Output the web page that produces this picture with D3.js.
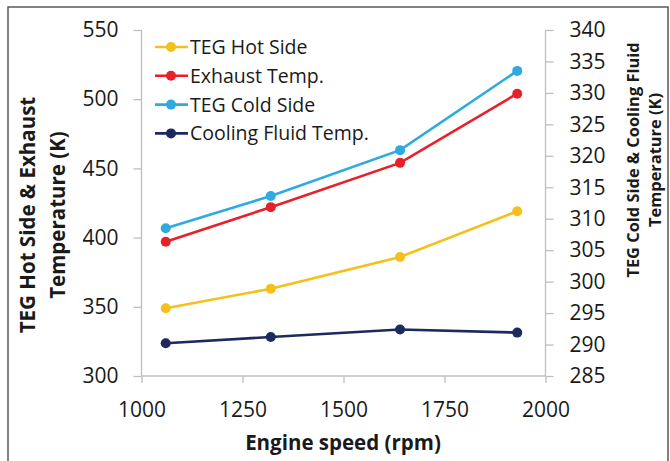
<!DOCTYPE html>
<html lang="en">
<head>
<meta charset="utf-8">
<title>TEG temperatures vs engine speed</title>
<script src="https://cdn.jsdelivr.net/npm/d3@7"></script>
<style>
    body { margin: 0; background: #fff; }
    svg text { font-family: "Open Sans", "Noto Sans", sans-serif; fill: #1a1a1a; }
    .axis path, .axis line { stroke: #bfbfbf; stroke-width: 1.3px; }
    .axis text { font-size: 21px; }
    .title { font-size: 20.5px; font-weight: bold; }
    .title.small { font-size: 16.4px; }
    .legend text { font-size: 19.5px; }
</style>
</head>
<body>
<svg width="670" height="461"></svg>
<script>
// engine speeds (rpm)
var speeds = [1060, 1320, 1640, 1930];

// left axis series (K)
var hotSide = [349, 363, 386, 419];
var exhaust = [397, 422, 454, 504];

// right axis series (K)
var coldSide = [308.5, 313.6, 320.9, 333.5];
var coolant = [290.2, 291.2, 292.4, 291.9];

var xTicks = [1000, 1250, 1500, 1750, 2000];
var leftTicks = [300, 350, 400, 450, 500, 550];
var rightTicks = [285, 290, 295, 300, 305, 310, 315, 320, 325, 330, 335, 340];

var legendNames = ["TEG Hot Side", "Exhaust Temp.", "TEG Cold Side", "Cooling Fluid Temp."];
var colors = ["#f5c01a", "#e8202a", "#2eaae1", "#1c2a5e"];

var svg = d3.select("svg");

// outer frame
svg.append("rect")
    .attr("x", 8).attr("y", 7)
    .attr("width", 660).attr("height", 470)
    .attr("fill", "none").attr("stroke", "#595959").attr("stroke-width", 1.5);

var x = d3.scaleLinear().domain([1000, 2000]).range([141.5, 545.5]);
var yL = d3.scaleLinear().domain([300, 550]).range([376, 30]);
var yR = d3.scaleLinear().domain([285, 340]).range([376, 30]);

// axes
var gx = svg.append("g").attr("class", "axis")
    .attr("transform", "translate(0,376)")
    .call(d3.axisBottom(x).tickValues(xTicks).tickSize(7).tickPadding(19).tickFormat(d3.format("d")));

var gl = svg.append("g").attr("class", "axis")
    .attr("transform", "translate(141.5,0)")
    .call(d3.axisLeft(yL).tickValues(leftTicks).tickSize(8).tickPadding(15));

var gr = svg.append("g").attr("class", "axis")
    .attr("transform", "translate(545.5,0)")
    .call(d3.axisRight(yR).tickValues(rightTicks).tickSize(8).tickPadding(16));

[gx, gl, gr].forEach(function (g) {
    g.select(".domain").attr("d", null);
});
gx.append("line").attr("x1", x(1000)).attr("x2", x(2000)).attr("stroke", "#bfbfbf").attr("stroke-width", 1.3);
gl.append("line").attr("y1", yL(300)).attr("y2", yL(550)).attr("stroke", "#bfbfbf").attr("stroke-width", 1.3);
gr.append("line").attr("y1", yR(285)).attr("y2", yR(340)).attr("stroke", "#bfbfbf").attr("stroke-width", 1.3);
svg.selectAll(".axis text").attr("fill", "#1a1a1a");

// series
var series = [
    { values: hotSide, y: yL },
    { values: exhaust, y: yL },
    { values: coldSide, y: yR },
    { values: coolant, y: yR }
];

series.forEach(function (s, i) {
    var pts = speeds.map(function (sp, j) { return [x(sp), s.y(s.values[j])]; });
    svg.append("path")
        .attr("d", d3.line()(pts))
        .attr("fill", "none")
        .attr("stroke", colors[i])
        .attr("stroke-width", 2.6);
    svg.selectAll(null).data(pts).enter().append("circle")
        .attr("cx", function (d) { return d[0]; })
        .attr("cy", function (d) { return d[1]; })
        .attr("r", 5)
        .attr("fill", colors[i]);
});

// legend
var legend = svg.append("g").attr("class", "legend");
legendNames.forEach(function (name, i) {
    var ly = 47 + i * 28.8;
    legend.append("line")
        .attr("x1", 155).attr("x2", 188).attr("y1", ly).attr("y2", ly)
        .attr("stroke", colors[i]).attr("stroke-width", 2.6);
    legend.append("circle").attr("cx", 171).attr("cy", ly).attr("r", 5).attr("fill", colors[i]);
    legend.append("text").attr("x", 190).attr("y", ly + 7).text(name);
});

// axis titles
svg.append("text").attr("class", "title")
    .attr("text-anchor", "middle")
    .attr("x", 343).attr("y", 450)
    .text("Engine speed (rpm)");

var lt = svg.append("text").attr("class", "title")
    .attr("text-anchor", "middle")
    .attr("transform", "translate(35,215) rotate(-90)");
lt.append("tspan").attr("x", 0).attr("dy", 0).text("TEG Hot Side & Exhaust");
lt.append("tspan").attr("x", 0).attr("dy", 30).text("Temperature (K)");

var rt = svg.append("text").attr("class", "title small")
    .attr("text-anchor", "middle")
    .attr("transform", "translate(639,160) rotate(-90)");
rt.append("tspan").attr("x", 0).attr("dy", 0).text("TEG Cold Side & Cooling Fluid");
rt.append("tspan").attr("x", 0).attr("dy", 22).text("Temperature (K)");
</script>
</body>
</html>
